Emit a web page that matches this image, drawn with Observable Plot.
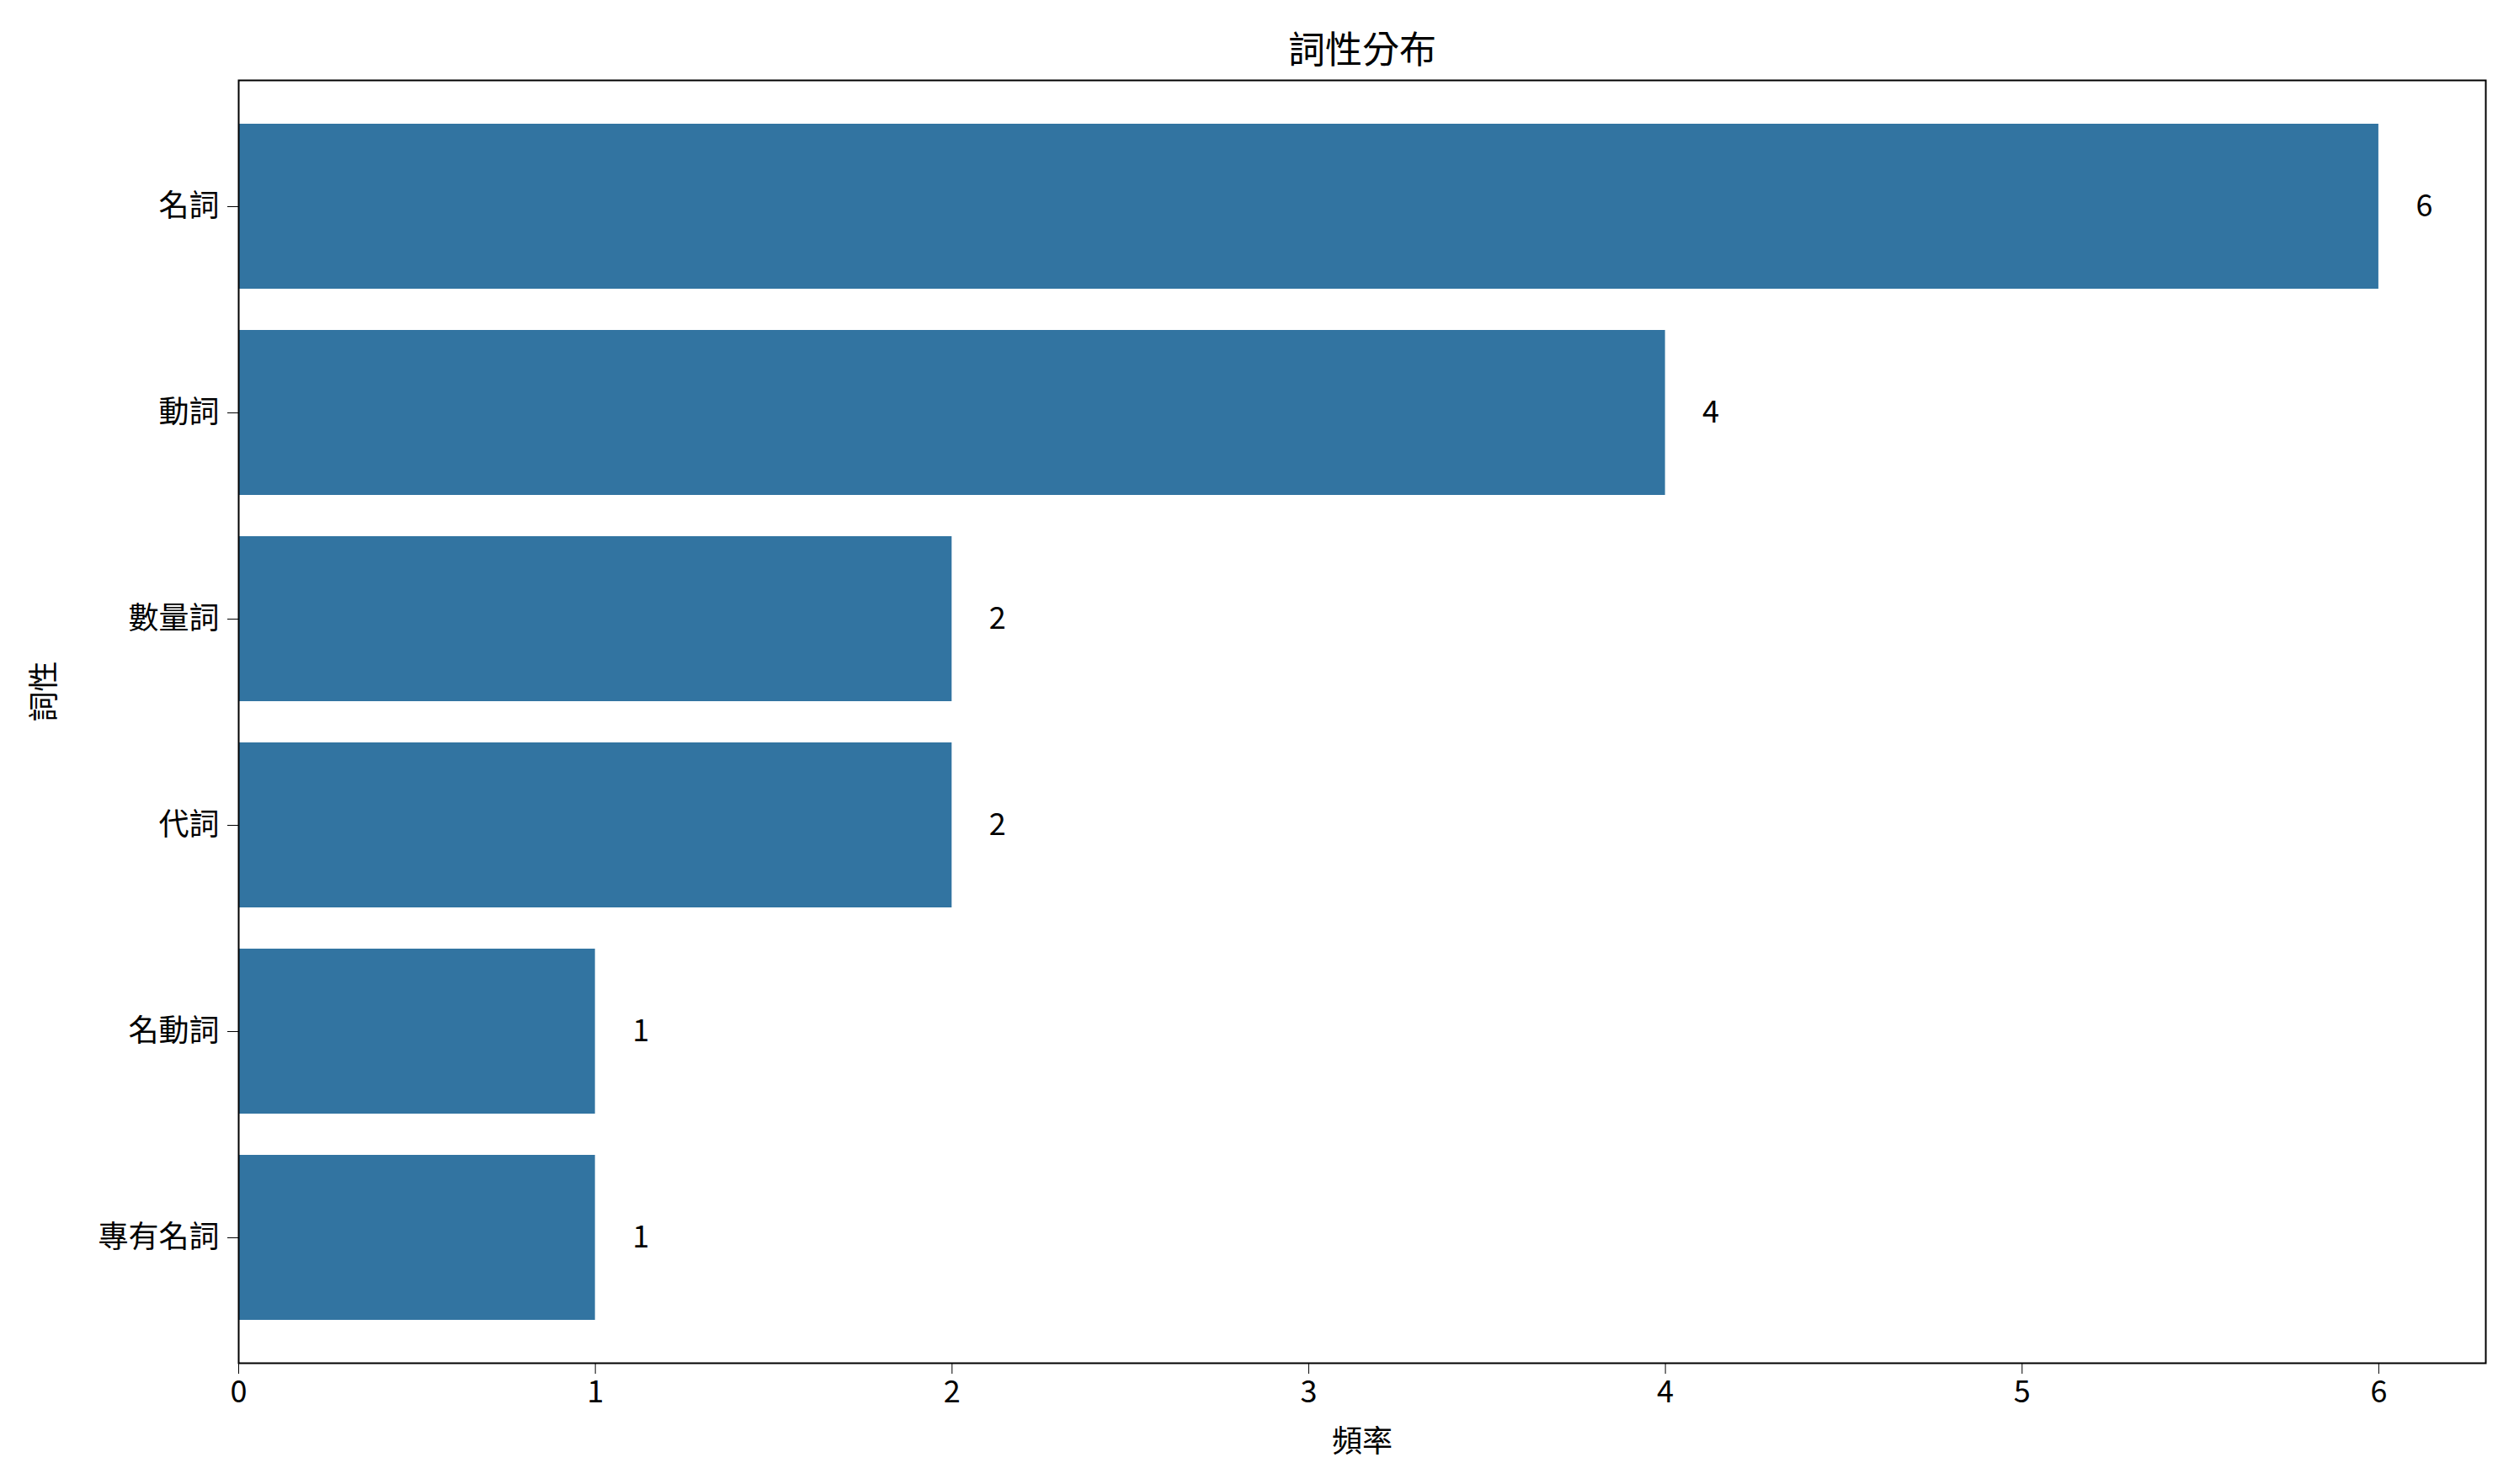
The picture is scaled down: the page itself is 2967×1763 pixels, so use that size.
<!DOCTYPE html>
<html><head><meta charset="utf-8">
<script src="https://cdn.jsdelivr.net/npm/d3@7"></script>
<script src="https://cdn.jsdelivr.net/npm/@observablehq/plot@0.6"></script>
<style>body{margin:0;background:#fff}</style>
</head><body><div id="chart"></div>
<script>
const categories = ['名詞', '動詞', '數量詞', '代詞', '名動詞', '專有名詞']
const counts = [6, 4, 2, 2, 1, 1]
const xTicks = [0, 1, 2, 3, 4, 5, 6]

const data = categories.map((c, i) => ({cat: c, n: counts[i]}))

let chart = Plot.plot({
  width: 2967,
  height: 1763,
  marginLeft: 283,
  marginRight: 15,
  marginTop: 95,
  marginBottom: 144,
  x: {domain: [0, 6.3], ticks: xTicks, tickFormat: d3.format('d'), label: null},
  y: {domain: categories, padding: 0.2, label: null},
  marks: [
    Plot.barX(data, {y: 'cat', x: 'n', fill: '#3274a1'}),
    Plot.text(data, {y: 'cat', x: 'n', text: d => String(d.n), dx: 54, fontSize: 36, fill: '#000'}),
    Plot.frame({stroke: '#000', strokeWidth: 2}),
    Plot.axisX({ticks: xTicks, tickSize: 13, tickPadding: 8, fontSize: 36, label: null, tickFormat: d3.format('d')}),
    Plot.axisY({tickSize: 13, tickPadding: 10, fontSize: 36, label: null}),
    Plot.text(['詞性分布'], {frameAnchor: 'top', dy: -52, fontSize: 44, fill: '#000'}),
    Plot.text(['頻率'], {frameAnchor: 'bottom', dy: 105, fontSize: 36, fill: '#000'}),
    Plot.text(['詞性'], {frameAnchor: 'left', dx: -230, rotate: -90, fontSize: 36, fill: '#000'})
  ],
  style: {
    background: '#ffffff',
    color: '#000',
    fontFamily: "'Noto Sans CJK TC', 'Noto Sans', sans-serif",
    fontSize: 36
  }
})
d3.select('#chart').append(() => chart)
</script>
</body></html>
